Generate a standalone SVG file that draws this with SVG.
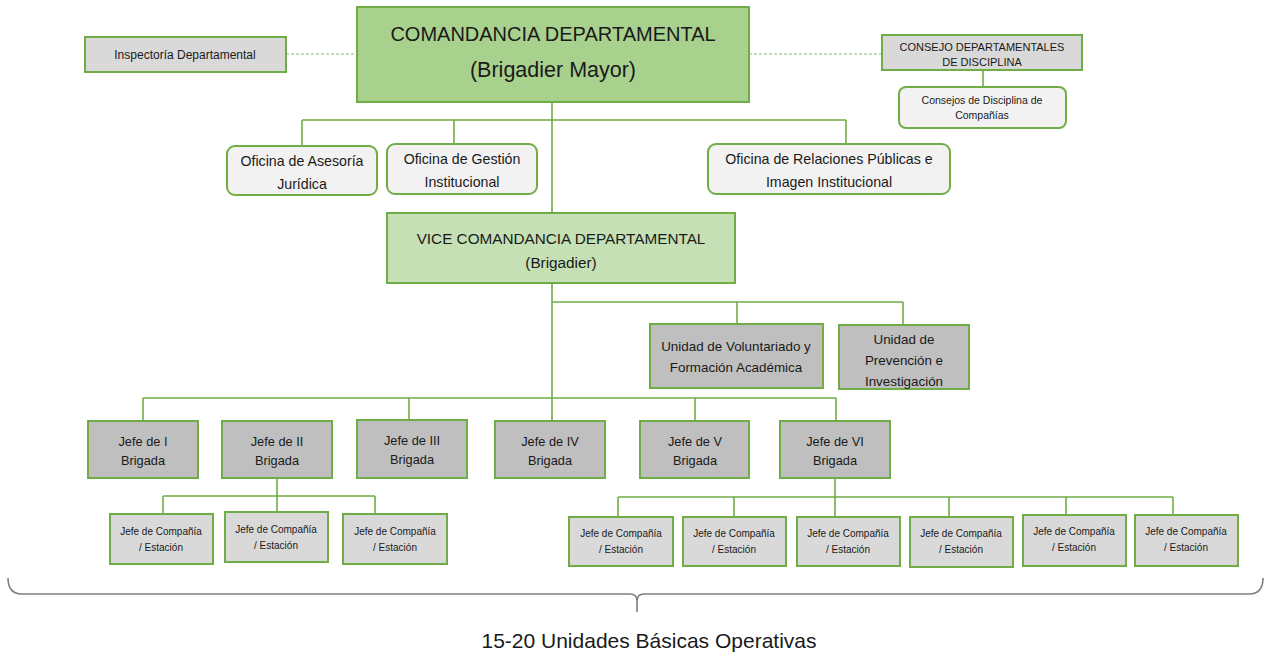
<svg xmlns="http://www.w3.org/2000/svg" width="1270" height="664" viewBox="0 0 1270 664">
<defs>
<style>
text{font-family:"Liberation Sans",Arial,sans-serif;fill:#1a1a1a;text-anchor:middle}
.g1{fill:#a9d18e;stroke:#70ad47;stroke-width:2}
.g2{fill:#c5e0b4;stroke:#70ad47;stroke-width:2}
.w{fill:#f2f2f2;stroke:#70ad47;stroke-width:2}
.lg{fill:#d9d9d9;stroke:#70ad47;stroke-width:2}
.dg{fill:#bfbfbf;stroke:#70ad47;stroke-width:2}
.c{fill:none;stroke:#70ad47;stroke-width:1.6}
.d{fill:none;stroke:#8fbc6f;stroke-width:1.2;stroke-dasharray:3 2}
.br{fill:none;stroke:#7f7f7f;stroke-width:1.6}
</style>
</defs>
<rect width="1270" height="664" fill="#ffffff"/>
<g id="connectors">
<path class="d" d="M286,54 H357 M749,54 H882"/>
<path class="c" d="M983,70 V87"/>
<path class="c" d="M552,102 V213"/>
<path class="c" d="M302,120 H846 M302,120 V146 M454,120 V144 M846,120 V144"/>
<path class="c" d="M552,283 V421"/>
<path class="c" d="M552,302 H903 M737,302 V324 M903,302 V325"/>
<path class="c" d="M143,398 H836 M143,398 V421 M409,398 V420 M695,398 V421 M836,398 V421"/>
<path class="c" d="M277,478 V512 M163,496 H375 M163,496 V514 M375,496 V514"/>
<path class="c" d="M835,478 V517 M618,497 H1173 M618,497 V517 M734,497 V517 M949,497 V517 M1066,497 V515 M1173,497 V515"/>
</g>
<g id="comandancia">
<rect class="g1" x="357" y="7" width="392" height="95"/>
<text x="553" y="41" font-size="20">COMANDANCIA  DEPARTAMENTAL</text>
<text x="553" y="77" font-size="21.5">(Brigadier Mayor)</text>
</g>
<g id="inspectoria">
<rect class="lg" x="85" y="37" width="201" height="35"/>
<text x="185" y="59" font-size="12">Inspectoría Departamental</text>
</g>
<g id="consejo">
<rect class="lg" x="882" y="35" width="200" height="35"/>
<text x="982" y="51" font-size="11">CONSEJO DEPARTAMENTALES</text>
<text x="982" y="66" font-size="11">DE DISCIPLINA</text>
</g>
<g id="consejos-companias">
<rect class="w" x="899" y="87" width="167" height="41" rx="7"/>
<text x="982" y="104" font-size="10.5">Consejos de Disciplina de</text>
<text x="982" y="119" font-size="10.5">Compañías</text>
</g>
<g id="asesoria">
<rect class="w" x="227" y="146" width="150" height="49" rx="8"/>
<text x="302" y="166" font-size="14.2">Oficina de Asesoría</text>
<text x="302" y="189" font-size="14.2">Jurídica</text>
</g>
<g id="gestion">
<rect class="w" x="387" y="144" width="150" height="50" rx="8"/>
<text x="462" y="164" font-size="14.2">Oficina de Gestión</text>
<text x="462" y="187" font-size="14.2">Institucional</text>
</g>
<g id="relaciones">
<rect class="w" x="708" y="144" width="242" height="50" rx="8"/>
<text x="829" y="164" font-size="14.2">Oficina de Relaciones Públicas e</text>
<text x="829" y="187" font-size="14.2">Imagen Institucional</text>
</g>
<g id="vice">
<rect class="g2" x="387" y="213" width="348" height="70"/>
<text x="561" y="244" font-size="15.3">VICE COMANDANCIA DEPARTAMENTAL</text>
<text x="561" y="268" font-size="15.3">(Brigadier)</text>
</g>
<g id="voluntariado">
<rect class="dg" x="650" y="324" width="173" height="64"/>
<text x="736" y="351" font-size="13.4">Unidad de Voluntariado y</text>
<text x="736" y="372" font-size="13.4">Formación Académica</text>
</g>
<g id="prevencion">
<rect class="dg" x="839" y="325" width="130" height="64"/>
<text x="904" y="344" font-size="13.4">Unidad de</text>
<text x="904" y="365" font-size="13.4">Prevención e</text>
<text x="904" y="386" font-size="13.4">Investigación</text>
</g>
<g id="brigada1">
<rect class="dg" x="88" y="421" width="110" height="57"/>
<text x="143" y="446" font-size="12.8">Jefe de I</text>
<text x="143" y="465" font-size="12.8">Brigada</text>
</g>
<g id="brigada2">
<rect class="dg" x="222" y="421" width="110" height="57"/>
<text x="277" y="446" font-size="12.8">Jefe de II</text>
<text x="277" y="465" font-size="12.8">Brigada</text>
</g>
<g id="brigada3">
<rect class="dg" x="357" y="420" width="110" height="58"/>
<text x="412" y="445" font-size="12.8">Jefe de III</text>
<text x="412" y="464" font-size="12.8">Brigada</text>
</g>
<g id="brigada4">
<rect class="dg" x="495" y="421" width="110" height="57"/>
<text x="550" y="446" font-size="12.8">Jefe de IV</text>
<text x="550" y="465" font-size="12.8">Brigada</text>
</g>
<g id="brigada5">
<rect class="dg" x="640" y="421" width="109" height="57"/>
<text x="695" y="446" font-size="12.8">Jefe de V</text>
<text x="695" y="465" font-size="12.8">Brigada</text>
</g>
<g id="brigada6">
<rect class="dg" x="780" y="421" width="110" height="57"/>
<text x="835" y="446" font-size="12.8">Jefe de VI</text>
<text x="835" y="465" font-size="12.8">Brigada</text>
</g>
<g id="cia-2-1">
<rect class="lg" x="110" y="514" width="103" height="50"/>
<text x="161" y="535" font-size="10">Jefe de Compañía</text>
<text x="161" y="551" font-size="10">/ Estación</text>
</g>
<g id="cia-2-2">
<rect class="lg" x="225" y="512" width="103" height="50"/>
<text x="276" y="533" font-size="10">Jefe de Compañía</text>
<text x="276" y="549" font-size="10">/ Estación</text>
</g>
<g id="cia-2-3">
<rect class="lg" x="343" y="514" width="104" height="50"/>
<text x="395" y="535" font-size="10">Jefe de Compañía</text>
<text x="395" y="551" font-size="10">/ Estación</text>
</g>
<g id="cia-6-1">
<rect class="lg" x="569" y="517" width="104" height="49"/>
<text x="621" y="537" font-size="10">Jefe de Compañía</text>
<text x="621" y="553" font-size="10">/ Estación</text>
</g>
<g id="cia-6-2">
<rect class="lg" x="683" y="517" width="103" height="49"/>
<text x="734" y="537" font-size="10">Jefe de Compañía</text>
<text x="734" y="553" font-size="10">/ Estación</text>
</g>
<g id="cia-6-3">
<rect class="lg" x="797" y="517" width="103" height="49"/>
<text x="848" y="537" font-size="10">Jefe de Compañía</text>
<text x="848" y="553" font-size="10">/ Estación</text>
</g>
<g id="cia-6-4">
<rect class="lg" x="910" y="517" width="103" height="50"/>
<text x="961" y="537" font-size="10">Jefe de Compañía</text>
<text x="961" y="553" font-size="10">/ Estación</text>
</g>
<g id="cia-6-5">
<rect class="lg" x="1023" y="515" width="103" height="51"/>
<text x="1074" y="535" font-size="10">Jefe de Compañía</text>
<text x="1074" y="551" font-size="10">/ Estación</text>
</g>
<g id="cia-6-6">
<rect class="lg" x="1135" y="515" width="103" height="51"/>
<text x="1186" y="535" font-size="10">Jefe de Compañía</text>
<text x="1186" y="551" font-size="10">/ Estación</text>
</g>
<g id="brace">
<path class="br" d="M8,578 Q8,594 22,594 H630 Q637,594 637,601 V612 M637,601 Q637,594 644,594 H1249 Q1263,594 1263,578"/>
<text x="649" y="648" font-size="21">15-20 Unidades Básicas Operativas</text>
</g>
</svg>
